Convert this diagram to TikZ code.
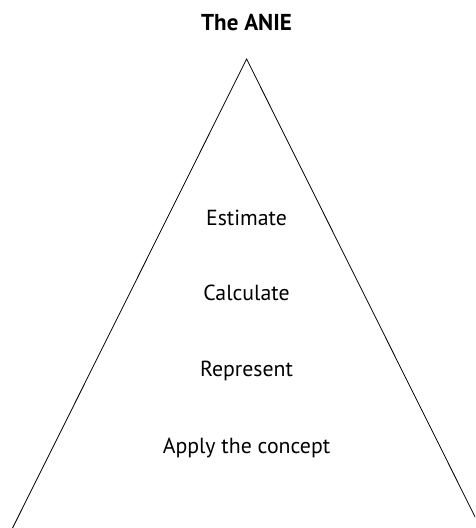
\documentclass[tikz,border=0pt]{standalone}
\usepackage{fontspec}
\setmainfont{PT Sans}
\usetikzlibrary{positioning,calc}

\begin{document}
\begin{tikzpicture}[
  x=1pt,y=-1pt,
  lbl/.style={anchor=base,font=\fontsize{21.8}{26}\selectfont,inner sep=0pt},
  ttl/.style={lbl,font=\fontsize{23}{27}\selectfont\bfseries},
  side/.style={draw,line width=0.8pt,line join=miter}]
\useasboundingbox (0,0) rectangle (475,528);
\clip (0,0) rectangle (475,528);
\coordinate (apex) at (246.6,59);
\coordinate (bl) at (-3.4,560);
\coordinate (br) at (496.6,560);
\draw[side] (bl) -- (apex) -- (br);
\node[ttl] (title) at (246.5,30) {The ANIE};
\node[lbl] (est) at (246.5,225) {Estimate};
\node[lbl] (calc) at (246.5,300) {Calculate};
\node[lbl] (rep) at (246.5,376) {Represent};
\node[lbl] (app) at (246.5,453) {Apply the concept};
\end{tikzpicture}
\end{document}
